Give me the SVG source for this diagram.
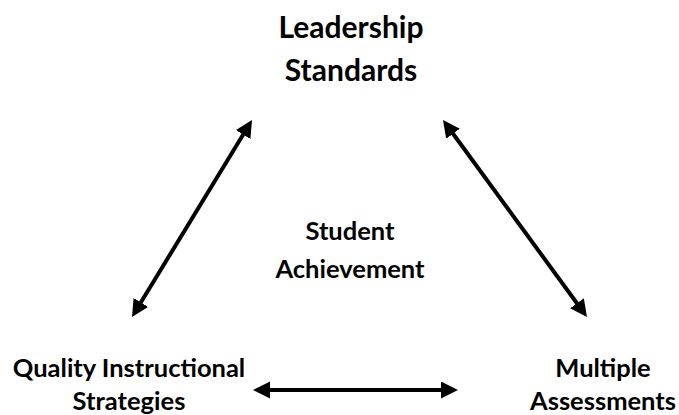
<svg xmlns="http://www.w3.org/2000/svg" width="679" height="415" viewBox="0 0 679 415">
  <style>
    .label { font-family: Lato, "Open Sans", "Liberation Sans", sans-serif; font-weight: bold; fill: #000; text-anchor: middle; }
    .big { font-size: 30px; }
    .small { font-size: 25.5px; }
    .link { stroke: #000; stroke-width: 4; fill: none; marker-start: url(#head); marker-end: url(#head); }
  </style>
  <defs>
    <!-- solid triangular arrowhead; the shaft stops 14px short of the tip -->
    <marker id="head" markerUnits="userSpaceOnUse" markerWidth="18" markerHeight="18" refX="3" refY="8.5" orient="auto-start-reverse">
      <path d="M0,0 L17,8.5 L0,17 z" fill="#000"/>
    </marker>
  </defs>
  <rect width="679" height="415" fill="#fff"/>

  <g id="connectors">
    <line class="link" x1="244.72" y1="131.96" x2="139.28" y2="305.04"/>
    <line class="link" x1="451.26" y1="131.30" x2="578.74" y2="305.70"/>
    <line class="link" x1="267" y1="390" x2="444" y2="390"/>
  </g>

  <g id="leadership-standards">
    <text class="label big" x="351" y="38">Leadership</text>
    <text class="label big" x="351" y="81">Standards</text>
  </g>

  <g id="student-achievement">
    <text class="label small" x="350" y="240">Student</text>
    <text class="label small" x="350" y="278">Achievement</text>
  </g>

  <g id="quality-instructional-strategies">
    <text class="label small" x="129" y="377">Quality Instructional</text>
    <text class="label small" x="129" y="410">Strategies</text>
  </g>

  <g id="multiple-assessments">
    <text class="label small" x="603" y="377">Multiple</text>
    <text class="label small" x="603" y="410">Assessments</text>
  </g>
</svg>
